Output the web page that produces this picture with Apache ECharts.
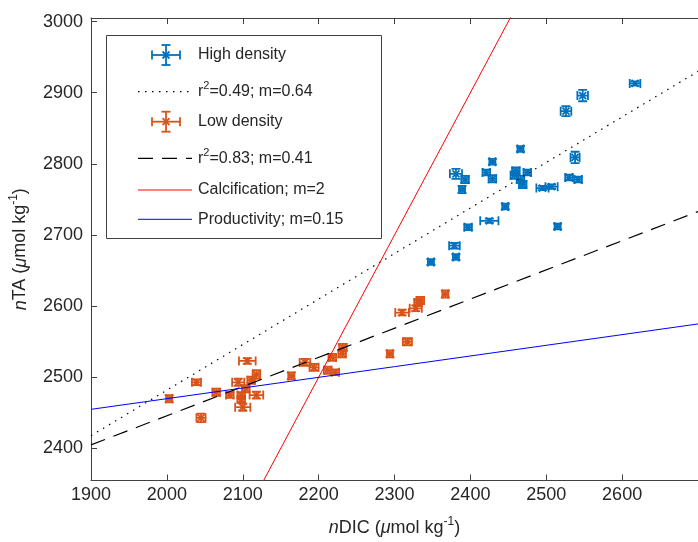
<!DOCTYPE html>
<html><head><meta charset="utf-8">
<script src="https://cdn.jsdelivr.net/npm/echarts@6/dist/echarts.min.js"></script>
<style>html,body{margin:0;padding:0;background:#fff}#c{width:698px;height:542px}</style>
</head><body><div id="c"></div>
<script>
// ---- data ----
const xTicks = [1900, 2000, 2100, 2200, 2300, 2400, 2500, 2600];
const yTicks = [2400, 2500, 2600, 2700, 2800, 2900, 3000];

const highX    = [2617, 2548, 2526, 2466, 2429, 2538, 2381, 2393, 2389, 2421, 2429, 2460, 2466, 2475, 2458, 2469, 2495, 2507, 2530, 2542, 2446, 2425, 2515, 2397, 2379, 2381, 2348];
const highY    = [2913, 2896, 2874, 2821, 2803, 2809, 2786, 2778, 2764, 2788, 2779, 2790, 2778, 2788, 2784, 2771, 2766, 2768, 2781, 2778, 2740, 2720, 2712, 2711, 2685, 2669, 2662];
const highXErr = [7, 7, 7, 4, 4, 6, 8, 5, 4, 5, 5, 5, 5, 5, 5, 5, 8, 8, 5, 5, 4, 12, 4, 5, 7, 4, 4];
const highYErr = [3, 8, 7, 4, 4, 8, 7, 5, 5, 4, 5, 5, 5, 4, 5, 5, 3, 3, 4, 4, 4, 3, 4, 4, 4, 4, 4];

const lowX    = [2003, 2039, 2045, 2065, 2106, 2094, 2083, 2098, 2098, 2100, 2118, 2118, 2111, 2104, 2164, 2182, 2194, 2212, 2222, 2218, 2231, 2232, 2294, 2317, 2310, 2328, 2331, 2334, 2367];
const lowY    = [2470, 2493, 2443, 2479, 2523, 2493, 2475, 2475, 2469, 2458, 2475, 2504, 2496, 2484, 2502, 2521, 2514, 2510, 2507, 2528, 2533, 2542, 2533, 2550, 2591, 2597, 2605, 2608, 2617];
const lowXErr = [4, 6, 6, 5, 11, 8, 5, 5, 5, 10, 9, 5, 5, 5, 4, 7, 6, 5, 5, 5, 5, 5, 4, 6, 9, 8, 5, 5, 4];
const lowYErr = [5, 4, 6, 5, 4, 5, 4, 4, 4, 5, 5, 6, 5, 5, 5, 5, 5, 5, 4, 5, 5, 5, 5, 5, 4, 4, 5, 5, 5];

const fitHighX = [1900, 2700], fitHighY = [2418, 2930];
const fitLowX  = [1900, 2700], fitLowY  = [2405, 2733];
const calcX    = [2100, 2500], calcY    = [2300, 3100];
const prodX    = [1900, 2700], prodY    = [2455, 2575];

const legendLabels = ['High density', 'r2=0.49; m=0.64', 'Low density', 'r2=0.83; m=0.41', 'Calcification; m=2', 'Productivity; m=0.15'];

// ---- styling ----
const FONT = '"Liberation Sans", Arial, Helvetica, sans-serif';
const TXT = '#262626';
const AX = '#404040';
const BLUE = '#0072BD', ORANGE = '#D95319';

function pairs(xs, ys) { return xs.map((x, i) => [x, ys[i]]); }
function quads(xs, ys, ex, ey) { return xs.map((x, i) => [x, ys[i], ex[i], ey[i]]); }

function errGlyph(cx, cy, xl, xr, yt, yb, color, z) {
  const cap = 4.5, m = 3.5;
  const st = { stroke: color, lineWidth: 1.8 };
  const L = (x1, y1, x2, y2) => {
    const e = { type: 'line', shape: { x1, y1, x2, y2 }, style: st };
    if (z != null) e.z = z;
    return e;
  };
  return [L(xl, cy, xr, cy), L(xl, cy - cap, xl, cy + cap), L(xr, cy - cap, xr, cy + cap),
          L(cx, yt, cx, yb), L(cx - cap, yt, cx + cap, yt), L(cx - cap, yb, cx + cap, yb),
          L(cx - m, cy - m, cx + m, cy + m), L(cx - m, cy + m, cx + m, cy - m)];
}
function errRender(color) {
  return function (params, api) {
    const x = api.value(0), y = api.value(1), ex = api.value(2), ey = api.value(3);
    const c = api.coord([x, y]);
    const xl = api.coord([x - ex, y])[0], xr = api.coord([x + ex, y])[0];
    const yt = api.coord([x, y + ey])[1], yb = api.coord([x, y - ey])[1];
    return { type: 'group', children: errGlyph(c[0], c[1], xl, xr, yt, yb, color) };
  };
}

const chart = echarts.init(document.getElementById('c'), null, { renderer: 'canvas', width: 698, height: 542 });

const nameRich = {
  i: { fontStyle: 'italic', fontSize: 18, fontFamily: FONT, color: TXT, lineHeight: 25 },
  t: { fontSize: 18, fontFamily: FONT, color: TXT, lineHeight: 25 },
  s: { fontSize: 12, fontFamily: FONT, color: TXT, verticalAlign: 'top', lineHeight: 12 }
};

// legend graphic
const rowsY = [55, 91.7, 121.7, 158.3, 190, 219.3];
const lx0 = 138, lx1 = 192, tx = 198;
const legendEls = [
  { type: 'rect', z: 100, shape: { x: 106.5, y: 35.5, width: 275, height: 203 }, style: { fill: '#fff', stroke: AX, lineWidth: 1 } },
  { type: 'line', z: 101, shape: { x1: lx0, y1: rowsY[1], x2: lx1, y2: rowsY[1] }, style: { stroke: '#000', lineWidth: 1.2, lineDash: [1.5, 5.5] } },
  { type: 'line', z: 101, shape: { x1: lx0, y1: rowsY[3], x2: lx1, y2: rowsY[3] }, style: { stroke: '#000', lineWidth: 1.2, lineDash: [15, 9] } },
  { type: 'line', z: 101, shape: { x1: lx0, y1: rowsY[4], x2: lx1, y2: rowsY[4] }, style: { stroke: '#ff0000', lineWidth: 1 } },
  { type: 'line', z: 101, shape: { x1: lx0, y1: rowsY[5], x2: lx1, y2: rowsY[5] }, style: { stroke: '#0000ff', lineWidth: 1 } }
];
errGlyph(166, rowsY[0], 152, 180, rowsY[0] - 10, rowsY[0] + 10, BLUE, 101).forEach(e => legendEls.push(e));
errGlyph(166, rowsY[2], 152, 180, rowsY[2] - 10, rowsY[2] + 10, ORANGE, 101).forEach(e => legendEls.push(e));
const legRich = {
  a: { fontSize: 16, fontFamily: FONT, fill: TXT, lineHeight: 22 },
  s: { fontSize: 11, fontFamily: FONT, fill: TXT, verticalAlign: 'top', lineHeight: 10 }
};
legendLabels.forEach((lab, i) => {
  let txt = '{a|' + lab + '}';
  if (lab.startsWith('r2')) txt = '{a|r}{s|2}{a|' + lab.slice(2) + '}';
  legendEls.push({
    type: 'text', z: 101,
    style: { text: txt, x: tx, y: rowsY[i], verticalAlign: 'middle', fill: TXT, font: '16px ' + FONT, rich: legRich }
  });
});

const plain = v => String(v);

const option = {
  animation: false,
  backgroundColor: '#fff',
  grid: { left: 90, top: 18, right: -4, bottom: 60, containLabel: false },
  xAxis: [{
    type: 'value', min: 1900, max: 2700, position: 'bottom',
    axisLine: { show: true, lineStyle: { color: AX, width: 1 } },
    axisTick: { show: true, inside: true, length: 6, lineStyle: { color: AX }, customValues: xTicks },
    axisLabel: { show: true, customValues: xTicks, formatter: plain, color: TXT, fontSize: 18, fontFamily: FONT, margin: 6 },
    splitLine: { show: false },
    name: '{i|n}{t|DIC (}{i|μ}{t|mol kg}{s|-1}{t|)}', nameLocation: 'middle', nameGap: 35,
    nameTextStyle: { fontSize: 18, fontFamily: FONT, color: TXT, rich: nameRich }
  }, {
    type: 'value', min: 1900, max: 2700, position: 'top',
    axisLine: { show: true, lineStyle: { color: AX, width: 1 } },
    axisTick: { show: true, inside: true, length: 6, lineStyle: { color: AX }, customValues: xTicks },
    axisLabel: { show: false }, splitLine: { show: false }
  }],
  yAxis: [{
    type: 'value', min: 2355, max: 3005, position: 'left',
    axisLine: { show: true, lineStyle: { color: AX, width: 1 } },
    axisTick: { show: true, inside: true, length: 6, lineStyle: { color: AX }, customValues: yTicks },
    axisLabel: { show: true, customValues: yTicks, formatter: plain, color: TXT, fontSize: 18, fontFamily: FONT, margin: 8 },
    splitLine: { show: false },
    name: '{i|n}{t|TA (}{i|μ}{t|mol kg}{s|-1}{t|)}', nameLocation: 'middle', nameGap: 58, nameRotate: 90,
    nameTextStyle: { fontSize: 18, fontFamily: FONT, color: TXT, rich: nameRich }
  }],
  series: [
    { type: 'custom', name: 'High density', renderItem: errRender(BLUE), data: quads(highX, highY, highXErr, highYErr),
      encode: { x: 0, y: 1 }, z: 2, silent: true, clip: true },
    { type: 'custom', name: 'Low density', renderItem: errRender(ORANGE), data: quads(lowX, lowY, lowXErr, lowYErr),
      encode: { x: 0, y: 1 }, z: 2, silent: true, clip: true },
    { type: 'line', data: pairs(fitHighX, fitHighY), showSymbol: false, symbol: 'none', z: 5, clip: true,
      lineStyle: { color: '#000', width: 1.2, type: [1.5, 5.5] } },
    { type: 'line', data: pairs(fitLowX, fitLowY), showSymbol: false, symbol: 'none', z: 5, clip: true,
      lineStyle: { color: '#000', width: 1.2, type: [15, 9] } },
    { type: 'line', data: pairs(calcX, calcY), showSymbol: false, symbol: 'none', z: 5, clip: true,
      lineStyle: { color: '#ff0000', width: 1 } },
    { type: 'line', data: pairs(prodX, prodY), showSymbol: false, symbol: 'none', z: 5, clip: true,
      lineStyle: { color: '#0000ff', width: 1 } }
  ],
  graphic: legendEls
};
chart.setOption(option);
</script>
</body></html>
